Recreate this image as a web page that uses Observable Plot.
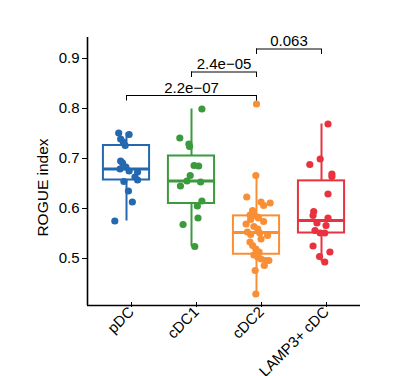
<!DOCTYPE html>
<html>
<head>
<meta charset="utf-8">
<script src="https://cdn.jsdelivr.net/npm/d3@7"></script>
<script src="https://cdn.jsdelivr.net/npm/@observablehq/plot@0.6"></script>
<style>
  html, body { margin: 0; padding: 0; background: #fff; }
  svg { display: block; }
</style>
</head>
<body>
<div id="chart"></div>
<script>
// ---- data ----
const categories = ["pDC", "cDC1", "cDC2", "LAMP3+ cDC"];
const colors = ["#2468b0", "#3b9a3c", "#f98f35", "#e8323e"];

const pDC = [0.751,0.748,0.739,0.733,0.726,0.695,0.691,0.683,0.679,0.675,0.673,0.663,0.657,0.654,0.635,0.613,0.575];
const pDCJitter = [-0.12,0.04,-0.09,-0.05,-0.02,-0.09,-0.06,-0.01,-0.10,0.04,0.17,0.13,0.17,-0.04,0.03,0.09,-0.18];

const cDC1 = [0.799,0.741,0.729,0.724,0.686,0.685,0.666,0.655,0.653,0.645,0.615,0.605,0.581,0.568,0.524];
const cDC1Jitter = [0.16,-0.18,-0.04,-0.03,0.04,0.11,-0.02,-0.07,0.14,-0.17,0.16,0.09,0.10,-0.13,0.05];

const cDC2 = [0.809,0.666,0.623,0.613,0.611,0.606,0.596,0.587,0.586,0.583,0.581,0.578,0.574,0.569,0.564,0.559,0.553,0.551,0.548,0.546,0.539,0.533,0.526,0.519,0.513,0.507,0.505,0.503,0.499,0.496,0.496,0.486,0.476,0.429];
const cDC2Jitter = [0,-0.01,-0.15,0.07,0.21,0.11,-0.06,-0.10,-0.04,0.02,0.03,-0.09,0.11,-0.16,-0.04,0.02,-0.14,0.05,-0.09,0.17,0.07,-0.10,-0.06,-0.01,0.04,-0.04,0.02,0.02,0.07,0.14,0.19,0.12,-0.02,-0.01];

const lamp3 = [0.769,0.699,0.688,0.669,0.664,0.629,0.594,0.586,0.581,0.571,0.566,0.556,0.551,0.551,0.525,0.513,0.504,0.493];
const lamp3Jitter = [0.10,-0.02,-0.18,0.16,0.16,0.10,-0.12,-0.13,0.10,-0.07,0.07,-0.10,-0.02,0.05,-0.13,0.13,-0.03,0.05];

const yTicks = [0.5, 0.6, 0.7, 0.8, 0.9];
const yTitle = "ROGUE index";

// significance brackets
const bracketFrom = ["pDC", "cDC1", "cDC2"];
const bracketTo = ["cDC2", "cDC2", "LAMP3+ cDC"];
const bracketLabels = ["2.2e\u221207", "2.4e\u221205", "0.063"];
const bracketY = [0.826, 0.873, 0.919];

// ---- build tables ----
const groups = [pDC, cDC1, cDC2, lamp3];
const jitters = [pDCJitter, cDC1Jitter, cDC2Jitter, lamp3Jitter];
const points = [];
groups.forEach((vals, gi) => vals.forEach((v, j) => points.push({cat: categories[gi], pos: gi + 1 + jitters[gi][j], value: v})));

const boxW = 0.355;
const stats = groups.map((vals, gi) => {
  const s = vals.slice().sort(d3.ascending);
  const q1 = d3.quantile(s, 0.25), med = d3.quantile(s, 0.5), q3 = d3.quantile(s, 0.75);
  const iqr = q3 - q1;
  const lo = d3.min(s.filter(v => v >= q1 - 1.5 * iqr));
  const hi = d3.max(s.filter(v => v <= q3 + 1.5 * iqr));
  return {cat: categories[gi], i: gi + 1, q1, med, q3, lo, hi};
});

const idx = c => categories.indexOf(c) + 1;
const tick = 0.011;
const brackets = bracketFrom.map((f, k) => ({x1: idx(f), x2: idx(bracketTo[k]), y: bracketY[k], label: bracketLabels[k]}));

const font = "'Liberation Sans', Arial, Helvetica, sans-serif";

const chart = Plot.plot({
  width: 416,
  height: 376,
  marginLeft: 87,
  marginRight: 56,
  marginTop: 37,
  marginBottom: 71,
  style: {fontFamily: font, fontSize: "15px", color: "#000", background: "#fff", overflow: "visible"},
  x: {type: "linear", domain: [0.4, 4.6]},
  y: {domain: [0.406, 0.942]},
  color: {domain: categories, range: colors},
  marks: [
    // whiskers
    Plot.ruleX(stats, {x: "i", y1: "lo", y2: "q1", stroke: "cat", strokeWidth: 2}),
    Plot.ruleX(stats, {x: "i", y1: "q3", y2: "hi", stroke: "cat", strokeWidth: 2}),
    // boxes
    Plot.rect(stats, {x1: d => d.i - boxW, x2: d => d.i + boxW, y1: "q1", y2: "q3", stroke: "cat", fill: "white", strokeWidth: 2}),
    // medians
    Plot.ruleY(stats, {x1: d => d.i - boxW, x2: d => d.i + boxW, y: "med", stroke: "cat", strokeWidth: 3.2}),
    // jittered points
    Plot.dot(points, {x: "pos", y: "value", fill: "cat", r: 3.6, stroke: null}),
    // brackets
    Plot.ruleY(brackets, {x1: "x1", x2: "x2", y: "y", stroke: "#000", strokeWidth: 1}),
    Plot.ruleX(brackets, {x: "x1", y1: d => d.y - tick, y2: "y", stroke: "#000", strokeWidth: 1}),
    Plot.ruleX(brackets, {x: "x2", y1: d => d.y - tick, y2: "y", stroke: "#000", strokeWidth: 1}),
    Plot.text(brackets, {x: d => (d.x1 + d.x2) / 2, y: "y", text: "label", lineAnchor: "bottom", dy: -3, fontSize: 15, fill: "#000"}),
    // axes
    Plot.axisY({ticks: yTicks, tickFormat: d3.format(".1f"), tickSize: 5, tickPadding: 3, fontSize: 15, label: null}),
    Plot.text([yTitle], {frameAnchor: "left", text: d => d, rotate: -90, dx: -44, dy: 16, fontSize: 15.5, fill: "#000", textAnchor: "middle", lineAnchor: "middle"}),
    Plot.axisX({ticks: [1, 2, 3, 4], tickFormat: i => categories[i - 1], tickSize: 5, tickRotate: -45, tickPadding: 2, fontSize: 15, label: null, dx: 5, dy: -3}),
    Plot.ruleX([0.4], {stroke: "#000", strokeWidth: 1.6}),
    Plot.ruleY([0.406], {stroke: "#000", strokeWidth: 1.6})
  ]
});
document.getElementById("chart").appendChild(chart);
</script>
</body>
</html>
